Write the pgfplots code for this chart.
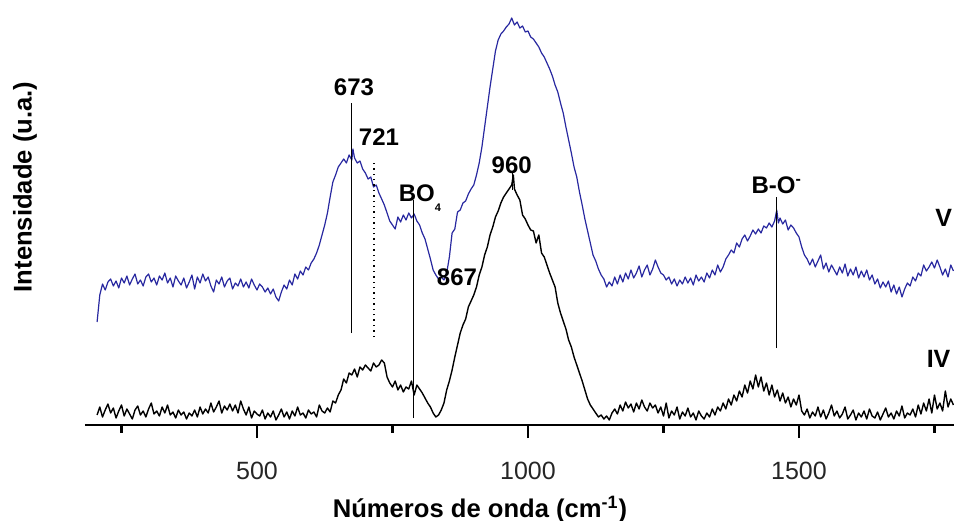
\documentclass[border=0pt]{standalone}
\usepackage{fontspec}
\setmainfont{Liberation Sans}
\usepackage{pgfplots}
\usepackage{pgfplotstable}
\pgfplotsset{compat=1.18}
\definecolor{specblue}{RGB}{40,40,160}

\pgfplotstableread{
x y
205 103
210 130
215 141
220 135
225 143
230 146
235 139
240 144
245 137
250 147
255 142
260 149
265 140
270 146
275 151
280 141
285 145
290 139
295 148
300 151
305 143
310 147
315 140
320 149
325 145
330 152
335 142
340 147
345 138
350 149
355 144
360 140
365 147
370 137
375 143
380 150
385 136
390 148
395 142
400 151
405 144
410 148
415 139
420 133
425 145
430 141
435 148
440 138
445 144
450 147
455 136
460 142
465 139
470 146
475 138
480 143
485 137
490 146
495 140
500 135
505 141
510 138
515 133
520 137
525 131
530 136
535 128
540 124
545 133
550 140
555 136
560 145
565 140
570 151
575 146
580 154
585 150
590 158
595 155
600 162
605 166
610 172
615 180
620 190
625 200
630 212
635 228
640 243
645 250
650 258
655 262
660 266
665 262
670 270
675 265
677 276
680 267
685 262
690 264
695 256
700 252
705 246
710 248
715 238
720 240
725 232
730 226
735 220
740 212
745 204
750 200
755 196
760 208
765 203
770 210
775 205
780 212
785 207
790 211
795 204
800 200
805 192
810 186
815 176
820 166
825 155
830 150
835 146
840 148
845 145
850 152
855 168
860 192
865 196
870 213
875 215
880 222
885 224
890 231
895 236
900 240
905 250
910 262
915 278
920 298
925 318
930 338
935 356
940 374
945 385
950 391
955 394
960 398
965 401
970 407
975 400
980 403
985 397
990 399
995 393
1000 394
1005 388
1010 386
1015 382
1020 378
1025 372
1030 368
1035 362
1040 356
1045 349
1050 340
1055 333
1060 322
1065 312
1070 298
1075 285
1080 272
1085 258
1090 248
1095 233
1100 220
1105 206
1110 194
1115 182
1120 170
1125 164
1130 156
1135 150
1140 146
1145 138
1150 143
1155 139
1160 148
1165 141
1170 150
1175 143
1180 152
1185 146
1190 155
1195 147
1200 152
1205 159
1210 148
1215 155
1220 160
1225 150
1230 156
1235 165
1240 158
1245 152
1250 150
1255 145
1260 148
1265 141
1270 146
1275 139
1280 145
1285 141
1290 148
1295 142
1300 147
1305 140
1310 150
1315 144
1320 148
1325 143
1330 152
1335 147
1340 155
1345 150
1350 160
1355 153
1360 158
1365 166
1370 170
1375 175
1380 172
1385 182
1390 178
1395 186
1400 190
1405 184
1410 189
1415 195
1420 191
1425 196
1430 192
1435 199
1440 197
1445 202
1450 198
1455 204
1459 215
1462 202
1465 207
1470 201
1475 205
1480 195
1485 200
1490 197
1495 192
1500 188
1505 178
1510 170
1515 166
1520 160
1525 166
1530 158
1535 164
1540 170
1545 156
1550 162
1555 153
1560 160
1565 155
1570 150
1575 158
1580 152
1585 161
1590 149
1595 156
1600 150
1605 158
1610 147
1615 154
1620 148
1625 155
1630 145
1635 150
1640 141
1645 146
1650 137
1655 143
1660 138
1665 144
1670 133
1675 140
1680 131
1685 138
1690 128
1695 136
1700 142
1705 139
1710 148
1715 144
1720 152
1725 149
1730 160
1735 154
1740 158
1745 163
1750 157
1755 165
1760 158
1765 150
1770 156
1775 148
1780 160
1785 154
}\seriesV

\pgfplotstableread{
x y
205 10
210 18
215 8
220 15
225 21
230 12
235 17
240 7
245 14
250 20
255 9
260 16
265 11
270 6
275 15
280 19
285 10
290 14
295 8
300 16
305 22
310 11
315 14
320 9
325 18
330 12
335 20
340 10
345 13
350 7
355 15
360 10
365 13
370 6
375 12
380 9
385 15
390 8
395 18
400 11
405 16
410 12
415 22
420 13
425 18
430 24
435 12
440 19
445 15
450 21
455 14
460 20
465 12
470 24
475 16
480 10
485 18
490 7
495 14
500 11
505 9
510 15
515 6
520 12
525 8
530 14
535 5
540 10
545 16
550 8
555 13
560 6
565 14
570 9
575 18
580 10
585 12
590 7
595 15
600 11
605 13
610 8
615 20
620 14
625 12
630 17
635 13
640 24
645 22
650 30
655 35
660 46
665 42
670 52
675 50
680 56
685 48
690 58
695 55
700 60
705 57
710 54
715 62
720 58
725 60
730 65
735 62
740 48
745 42
750 38
755 44
760 35
765 40
770 33
775 38
780 36
785 44
790 30
795 40
800 36
805 32
810 27
815 22
820 18
825 12
830 8
835 10
840 15
845 22
850 35
855 44
860 55
865 68
870 80
875 92
880 100
885 106
890 118
895 124
900 130
905 138
910 150
915 158
920 170
925 178
930 190
935 198
940 208
945 214
950 222
955 228
960 232
965 236
970 240
973 250
975 236
980 230
985 225
990 210
995 206
1000 200
1005 195
1010 194
1015 182
1020 190
1025 172
1030 168
1035 160
1040 152
1045 145
1050 138
1055 122
1060 112
1065 104
1070 96
1075 85
1080 78
1085 68
1090 60
1095 52
1100 44
1105 35
1110 26
1115 20
1120 16
1125 12
1130 8
1135 10
1140 6
1145 9
1150 5
1155 12
1160 16
1165 11
1170 20
1175 14
1180 23
1185 17
1190 21
1195 13
1200 22
1205 16
1210 25
1215 18
1220 14
1225 22
1230 17
1235 20
1240 12
1245 18
1250 9
1255 22
1260 7
1265 14
1270 10
1275 18
1280 6
1285 13
1290 9
1295 17
1300 8
1305 12
1310 5
1315 14
1320 9
1325 6
1330 12
1335 8
1340 16
1345 10
1350 18
1355 14
1360 22
1365 16
1370 26
1375 20
1380 30
1385 24
1390 34
1395 28
1400 40
1405 32
1410 44
1415 36
1420 50
1425 38
1430 48
1435 34
1440 42
1445 30
1450 40
1455 28
1460 35
1465 24
1470 32
1475 22
1480 28
1485 18
1490 26
1495 20
1500 30
1505 14
1510 10
1515 16
1520 7
1525 13
1530 9
1535 18
1540 8
1545 15
1550 6
1555 12
1560 20
1565 9
1570 14
1575 7
1580 11
1585 18
1590 6
1595 10
1600 15
1605 5
1610 12
1615 8
1620 14
1625 6
1630 16
1635 9
1640 7
1645 13
1650 5
1655 11
1660 17
1665 8
1670 12
1675 6
1680 14
1685 9
1690 19
1695 7
1700 12
1705 10
1710 16
1715 8
1720 20
1725 11
1730 22
1735 14
1740 26
1745 12
1750 30
1755 16
1760 22
1765 14
1770 34
1775 18
1780 26
1785 20
}\seriesIV

\begin{document}
\begin{tikzpicture}
\begin{axis}[
  at={(0,0)}, anchor=south west,
  scale only axis,
  width=434.5pt, height=212.5pt,
  xmin=182.7, xmax=1786,
  ymin=0, ymax=425,
  clip=false,
  axis x line*=bottom,
  axis y line=none,
  x axis line style={line width=1.3pt,-},
  xtick={500,1000,1500},
  minor xtick={250,750,1250,1750},
  tick align=outside,
  major tick length=6.5pt,
  minor tick length=3.8pt,
  every tick/.style={black,line width=1.1pt},
  xticklabel style={font=\fontsize{12.5}{14}\selectfont, text=black!85, anchor=base, yshift=-20.5pt},
  /pgf/number format/assume math mode=true,
  /pgf/number format/1000 sep={},
]
\addplot[specblue, line width=0.6pt, line join=round] table[x=x,y=y] {\seriesV};
\addplot[black, line width=0.7pt, line join=round] table[x=x,y=y] {\seriesIV};

% annotation lines
\addplot[black, line width=0.5pt] coordinates {(675,92) (675,322)};
\addplot[black, line width=0.7pt, dotted] coordinates {(716,88) (716,263)};
\addplot[black, line width=0.5pt] coordinates {(788,7) (788,225)};
\addplot[black, line width=0.5pt] coordinates {(972,235) (972,252)};
\addplot[black, line width=0.5pt] coordinates {(1459,77) (1459,228)};

% annotation labels
\node[font=\bfseries\fontsize{12}{14}\selectfont] at (axis cs:679,338) {673};
\node[font=\bfseries\fontsize{12}{14}\selectfont] at (axis cs:725,288) {721};
\node[font=\bfseries\fontsize{12}{14}\selectfont, anchor=base west, inner sep=0pt] at (axis cs:761,223) {BO\raisebox{-5pt}{\fontsize{5.5}{6}\selectfont 4}};
\node[font=\bfseries\fontsize{12}{14}\selectfont] at (axis cs:869,148) {867};
\node[font=\bfseries\fontsize{12}{14}\selectfont] at (axis cs:970,260) {960};
\node[font=\bfseries\fontsize{12}{14}\selectfont] at (axis cs:1459,240) {B-O\textsuperscript{-}};
\node[font=\bfseries\fontsize{12.5}{14}\selectfont, anchor=west, inner sep=0pt] at (axis cs:1751,207) {V};
\node[font=\bfseries\fontsize{12.5}{14}\selectfont, anchor=west, inner sep=0pt] at (axis cs:1735,66) {IV};
\end{axis}

% axis labels
\node[font=\bfseries\fontsize{12.8}{15}\selectfont, rotate=90] at (-30pt,119pt) {Intensidade (u.a.)};
\node[font=\bfseries\fontsize{12.8}{15}\selectfont, anchor=base] at (197.5pt,-46pt) {Números de onda (cm\textsuperscript{-1})};

\pgfresetboundingbox
\path[use as bounding box] (-42.5pt,-47.5pt) rectangle (434.5pt,212.5pt);
\end{tikzpicture}
\end{document}
